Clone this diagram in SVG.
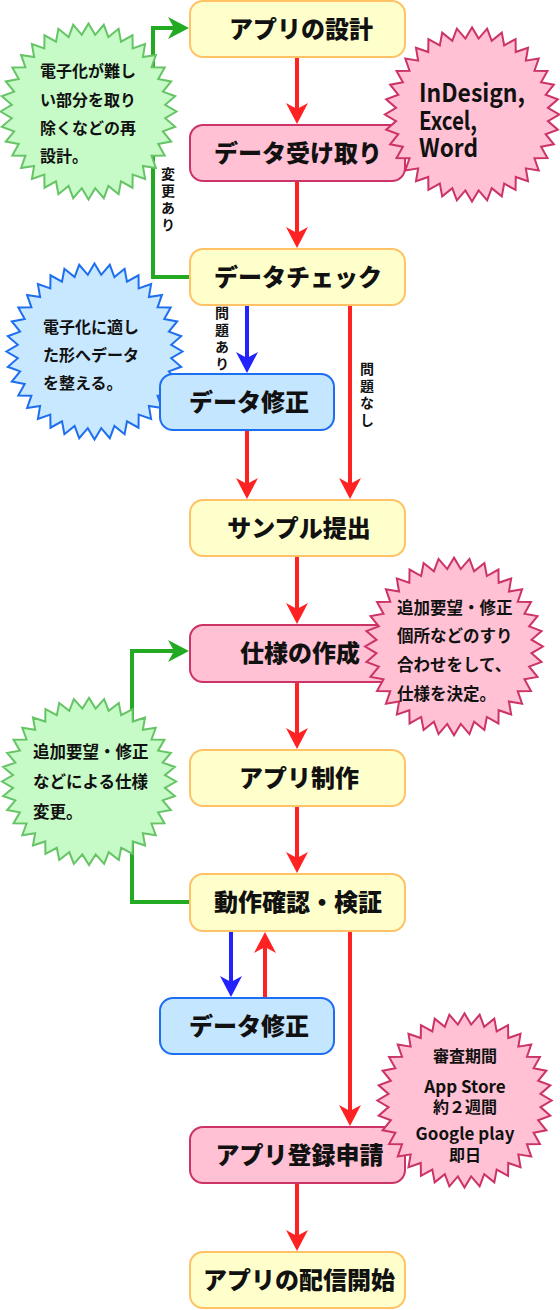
<svg xmlns="http://www.w3.org/2000/svg" xmlns:xlink="http://www.w3.org/1999/xlink" width="560" height="1310" viewBox="0 0 560 1310">
<style>
text{font-family:"Noto Sans CJK JP","Noto Sans",sans-serif;font-weight:bold;fill:#111}
.bt{font-size:24px;text-anchor:middle;font-weight:900}
.st{font-size:16px}
.vl{font-size:14px;writing-mode:vertical-rl;text-orientation:upright;letter-spacing:3px}
.y{fill:#FFFFCC;stroke:#FFC266;stroke-width:2}
.p{fill:#FFC1D3;stroke:#CC3366;stroke-width:2}
.b{fill:#C4E6FF;stroke:#1E6EF0;stroke-width:2}
.sg{fill:#C6FAC6;stroke:#66C466;stroke-width:2}
.sp{fill:#FFC1D3;stroke:#CC3366;stroke-width:2}
.sb{fill:#C8E8FF;stroke:#1E6EF0;stroke-width:2}
.r{stroke:#FF2222;stroke-width:4;fill:none;marker-end:url(#ar)}
.bl{stroke:#2222FF;stroke-width:4;fill:none;marker-end:url(#ab)}
.g{stroke:#22AA22;stroke-width:4;fill:none;marker-end:url(#ag)}
</style>
<defs>
<marker id="ar" markerUnits="userSpaceOnUse" viewBox="0 -12 22 24" refX="6" refY="0" markerWidth="22" markerHeight="24" orient="auto"><path d="M0,-11 L21,0 L0,11 L6,0 Z" fill="#FF2222"/></marker>
<marker id="ab" markerUnits="userSpaceOnUse" viewBox="0 -12 22 24" refX="6" refY="0" markerWidth="22" markerHeight="24" orient="auto"><path d="M0,-11 L21,0 L0,11 L6,0 Z" fill="#2222FF"/></marker>
<marker id="ag" markerUnits="userSpaceOnUse" viewBox="0 -12 22 24" refX="6" refY="0" markerWidth="22" markerHeight="24" orient="auto"><path d="M0,-11 L21,0 L0,11 L6,0 Z" fill="#22AA22"/></marker>
<polygon id="star" vector-effect="non-scaling-stroke" points="0,-88 6.7,-76.7 15.3,-86.7 19.9,-74.4 30.1,-82.7 32.5,-69.8 44,-76.2 44.2,-63.1 56.6,-67.4 54.4,-54.4 67.4,-56.6 63.1,-44.2 76.2,-44 69.8,-32.5 82.7,-30.1 74.4,-19.9 86.7,-15.3 76.7,-6.7 88,0 76.7,6.7 86.7,15.3 74.4,19.9 82.7,30.1 69.8,32.5 76.2,44 63.1,44.2 67.4,56.6 54.4,54.4 56.6,67.4 44.2,63.1 44,76.2 32.5,69.8 30.1,82.7 19.9,74.4 15.3,86.7 6.7,76.7 0,88 -6.7,76.7 -15.3,86.7 -19.9,74.4 -30.1,82.7 -32.5,69.8 -44,76.2 -44.2,63.1 -56.6,67.4 -54.4,54.4 -67.4,56.6 -63.1,44.2 -76.2,44 -69.8,32.5 -82.7,30.1 -74.4,19.9 -86.7,15.3 -76.7,6.7 -88,0 -76.7,-6.7 -86.7,-15.3 -74.4,-19.9 -82.7,-30.1 -69.8,-32.5 -76.2,-44 -63.1,-44.2 -67.4,-56.6 -54.4,-54.4 -56.6,-67.4 -44.2,-63.1 -44,-76.2 -32.5,-69.8 -30.1,-82.7 -19.9,-74.4 -15.3,-86.7 -6.7,-76.7"/>
</defs>
<g id="connectors">
<path class="r" d="M297,57 V109"/>
<path class="r" d="M297,181 V233"/>
<path class="g" d="M190,277 H153 V28 H174"/>
<path class="bl" d="M247,305 V358"/>
<path class="r" d="M350,305 V484"/>
<path class="r" d="M247,430 V484"/>
<path class="r" d="M297,556 V609"/>
<path class="g" d="M190,902 H132 V651 H174"/>
<path class="r" d="M297,682 V734"/>
<path class="r" d="M297,806 V858"/>
<path class="bl" d="M231,931 V982"/>
<path class="r" d="M265,998 V947"/>
<path class="r" d="M350,931 V1111"/>
<path class="r" d="M297,1183 V1236"/>
<text class="vl" x="168" y="167">変更あり</text>
<text class="vl" x="222" y="306">問題あり</text>
<text class="vl" x="367" y="362">問題なし</text>
</g>
<g id="note-convert">
<use xlink:href="#star" class="sb" transform="translate(94.5,351.5)"/>
<text class="st" x="43" y="333">電子化に適し</text>
<text class="st" x="43" y="361">た形へデータ</text>
<text class="st" x="43" y="389">を整える。</text>
</g>
<g id="n1"><rect class="y" x="190" y="1" width="215" height="56" rx="13"/><text class="bt" x="301" y="37.5">アプリの設計</text></g>
<g id="n2"><rect class="p" x="190" y="125" width="215" height="56" rx="13"/><text class="bt" x="298" y="161.5">データ受け取り</text></g>
<g id="n3"><rect class="y" x="190" y="249" width="215" height="56" rx="13"/><text class="bt" x="298" y="285.5">データチェック</text></g>
<g id="n4"><rect class="b" x="160" y="374" width="174" height="56" rx="13"/><text class="bt" x="249" y="410.5">データ修正</text></g>
<g id="n5"><rect class="y" x="190" y="500" width="215" height="56" rx="13"/><text class="bt" x="299" y="536.5">サンプル提出</text></g>
<g id="n6"><rect class="p" x="190" y="625" width="215" height="57" rx="13"/><text class="bt" x="300" y="662">仕様の作成</text></g>
<g id="n7"><rect class="y" x="190" y="750" width="215" height="56" rx="13"/><text class="bt" x="299" y="786.5">アプリ制作</text></g>
<g id="n8"><rect class="y" x="190" y="874" width="215" height="57" rx="13"/><text class="bt" x="298" y="911">動作確認・検証</text></g>
<g id="n9"><rect class="b" x="160" y="998" width="174" height="56" rx="13"/><text class="bt" x="249" y="1034.5">データ修正</text></g>
<g id="n10"><rect class="p" x="190" y="1127" width="215" height="56" rx="13"/><text class="bt" x="299.5" y="1163.5">アプリ登録申請</text></g>
<g id="n11"><rect class="y" x="190" y="1252" width="215" height="56" rx="13"/><text class="bt" x="299" y="1288.5">アプリの配信開始</text></g>
<g id="note-redesign">
<use xlink:href="#star" class="sg" transform="translate(88.5,111.5)"/>
<text class="st" x="40" y="77">電子化が難し</text>
<text class="st" x="40" y="105.5">い部分を取り</text>
<text class="st" x="40" y="134">除くなどの再</text>
<text class="st" x="40" y="162">設計。</text>
</g>
<g id="note-formats">
<use xlink:href="#star" class="sp" transform="translate(472,114.5) scale(0.99)"/>
<text x="419" y="102" style="font-size:25px" textLength="106" lengthAdjust="spacingAndGlyphs">InDesign,</text>
<text x="419" y="130" style="font-size:25px" textLength="58" lengthAdjust="spacingAndGlyphs">Excel,</text>
<text x="419" y="157" style="font-size:25px" textLength="59" lengthAdjust="spacingAndGlyphs">Word</text>
</g>
<g id="note-spec">
<use xlink:href="#star" class="sp" transform="translate(454,646.5) scale(1.01)"/>
<text class="st" x="397" y="614" style="font-size:16.5px">追加要望・修正</text>
<text class="st" x="397" y="642" style="font-size:16.5px">個所などのすり</text>
<text class="st" x="397" y="671" style="font-size:16.5px">合わせをして、</text>
<text class="st" x="397" y="700" style="font-size:16.5px">仕様を決定。</text>
</g>
<g id="note-change">
<use xlink:href="#star" class="sg" transform="translate(89,781.5) scale(0.99,0.95)"/>
<text class="st" x="33" y="758" style="font-size:16.5px">追加要望・修正</text>
<text class="st" x="33" y="788" style="font-size:16.5px">などによる仕様</text>
<text class="st" x="33" y="818" style="font-size:16.5px">変更。</text>
</g>
<g id="note-review">
<use xlink:href="#star" class="sp" transform="translate(464.5,1100.5) scale(0.99)"/>
<text x="465" y="1062" style="font-size:16px;text-anchor:middle">審査期間</text>
<text x="465" y="1093" style="font-size:17px;text-anchor:middle">App Store</text>
<text x="465" y="1113" style="font-size:16px;text-anchor:middle">約２週間</text>
<text x="465" y="1140" style="font-size:17px;text-anchor:middle">Google play</text>
<text x="465" y="1161" style="font-size:16px;text-anchor:middle">即日</text>
</g>
</svg>
